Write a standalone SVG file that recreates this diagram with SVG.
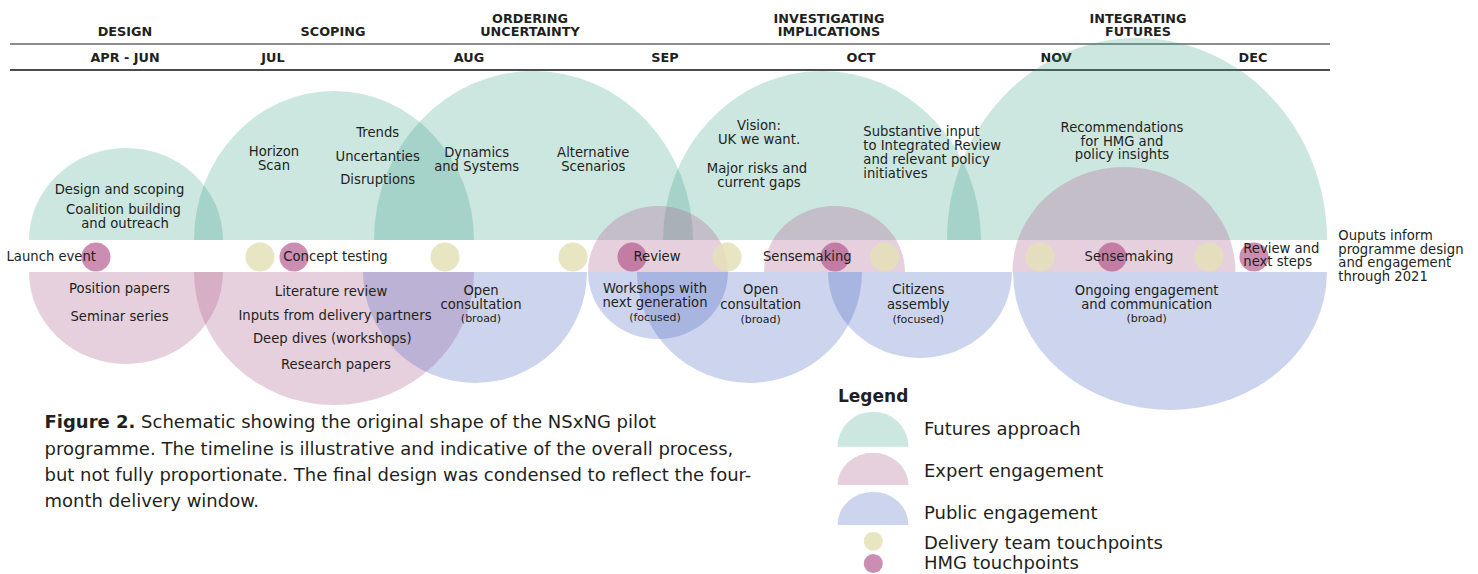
<svg xmlns="http://www.w3.org/2000/svg" width="1478" height="574" viewBox="0 0 1478 574">
<style>
text{font-family:"DejaVu Sans","Liberation Sans",sans-serif;fill:#231f20}
.hd{font-weight:bold;font-size:12.8px;text-anchor:middle}
.lb{font-size:13.2px}
.c{text-anchor:middle}
.sm{font-size:11px}
.cap{font-size:18px}
.lg{font-size:18px}
.fu{fill:#339b83;fill-opacity:.25}
.ex{fill:#b0648f;fill-opacity:.3}
.pu{fill:#4c64c2;fill-opacity:.28}
.dt{fill:#e4e0b9;fill-opacity:.85}
.hm{fill:#af5087;fill-opacity:.65}
</style>
<rect width="1478" height="574" fill="#fff"/>
<g id="timeline">
<line x1="10" y1="44" x2="1330" y2="44" stroke="#666" stroke-width="1.6"/>
<line x1="10" y1="70" x2="1330" y2="70" stroke="#111" stroke-width="1.3"/>
</g>
<g id="phases">
<text class="hd" x="125" y="36">DESIGN</text>
<text class="hd" x="333" y="36">SCOPING</text>
<text class="hd" x="530" y="23.3">ORDERING</text>
<text class="hd" x="530" y="36">UNCERTAINTY</text>
<text class="hd" x="829" y="23.3">INVESTIGATING</text>
<text class="hd" x="829" y="36">IMPLICATIONS</text>
<text class="hd" x="1138" y="23.3">INTEGRATING</text>
<text class="hd" x="1138" y="36">FUTURES</text>
</g>
<g id="months">
<text class="hd" x="125" y="62.3">APR - JUN</text>
<text class="hd" x="273" y="62.3">JUL</text>
<text class="hd" x="469" y="62.3">AUG</text>
<text class="hd" x="665" y="62.3">SEP</text>
<text class="hd" x="861" y="62.3">OCT</text>
<text class="hd" x="1056" y="62.3">NOV</text>
<text class="hd" x="1253" y="62.3">DEC</text>
</g>
<g id="futures-shapes">
<path class="fu" d="M29,240 A97,92 0 0 1 223,240 Z"/>
<path class="fu" d="M194,240 A140,149 0 0 1 474,240 Z"/>
<path class="fu" d="M374,240 A159.5,169 0 0 1 693,240 Z"/>
<path class="fu" d="M663,240 A159,169 0 0 1 981,240 Z"/>
<path class="fu" d="M947,240 A190,202 0 0 1 1327,240 Z"/>
</g>
<g id="expert-shapes">
<path class="ex" d="M29,272 A97,92 0 0 0 223,272 Z"/>
<path class="ex" d="M194,272 A140,133 0 0 0 474,272 Z"/>
<path class="ex" d="M588,272 A70,66 0 0 1 728,272 Z"/>
<path class="ex" d="M764,272 A70.5,66 0 0 1 905,272 Z"/>
<path class="ex" d="M1012.5,272 A111.5,105 0 0 1 1235.5,272 Z"/>
</g>
<g id="public-shapes">
<path class="pu" d="M363,272 A112,111 0 0 0 587,272 Z"/>
<path class="pu" d="M588,272 A70,67 0 0 0 728,272 Z"/>
<path class="pu" d="M637,272 A112.5,111 0 0 0 862,272 Z"/>
<path class="pu" d="M828,272 A92,86 0 0 0 1012,272 Z"/>
<path class="pu" d="M1013,272 A157,138 0 0 0 1327,272 Z"/>
</g>
<g id="touchpoints">
<circle class="dt" cx="260" cy="257" r="14.5"/>
<circle class="dt" cx="445" cy="257" r="14.5"/>
<circle class="dt" cx="573" cy="257" r="14.5"/>
<circle class="dt" cx="727" cy="257" r="14.5"/>
<circle class="dt" cx="884.5" cy="257" r="14.5"/>
<circle class="dt" cx="1040" cy="257" r="14.5"/>
<circle class="dt" cx="1209" cy="257" r="14.5"/>
<circle class="hm" cx="96" cy="257" r="14.5"/>
<circle class="hm" cx="294" cy="257" r="14.5"/>
<circle class="hm" cx="632" cy="257" r="14.5"/>
<circle class="hm" cx="835" cy="257" r="14.5"/>
<circle class="hm" cx="1112" cy="257" r="14.5"/>
<circle class="hm" cx="1254" cy="257" r="14.5"/>
</g>
<g id="design-stage">
<text class="lb c" x="119.5" y="194">Design and scoping</text>
<text class="lb c" x="123.5" y="214">Coalition building</text>
<text class="lb c" x="125" y="227.5">and outreach</text>
<text class="lb" x="6.5" y="261">Launch event</text>
<text class="lb c" x="119.5" y="292.7">Position papers</text>
<text class="lb c" x="119.5" y="320.5">Seminar series</text>
</g>
<g id="scoping-stage">
<text class="lb c" x="274" y="156">Horizon</text>
<text class="lb c" x="274" y="170">Scan</text>
<text class="lb c" x="377.7" y="137.3">Trends</text>
<text class="lb c" x="377.7" y="160.7">Uncertanties</text>
<text class="lb c" x="377.7" y="184">Disruptions</text>
<text class="lb c" x="335.5" y="261">Concept testing</text>
<text class="lb c" x="331" y="295.7">Literature review</text>
<text class="lb c" x="335" y="320">Inputs from delivery partners</text>
<text class="lb c" x="332.3" y="343.3">Deep dives (workshops)</text>
<text class="lb c" x="336" y="369.3">Research papers</text>
</g>
<g id="ordering-stage">
<text class="lb c" x="476.7" y="156.7">Dynamics</text>
<text class="lb c" x="476.7" y="170.7">and Systems</text>
<text class="lb c" x="593.3" y="156.7">Alternative</text>
<text class="lb c" x="593.3" y="170.7">Scenarios</text>
<text class="lb c" x="481" y="295">Open</text>
<text class="lb c" x="481" y="309.3">consultation</text>
<text class="sm c" x="481" y="322.3">(broad)</text>
<text class="lb c" x="657" y="261">Review</text>
<text class="lb c" x="655" y="292.7">Workshops with</text>
<text class="lb c" x="655" y="306.7">next generation</text>
<text class="sm c" x="655" y="320.7">(focused)</text>
</g>
<g id="implications-stage">
<text class="lb c" x="759" y="130">Vision:</text>
<text class="lb c" x="759" y="144">UK we want.</text>
<text class="lb c" x="757" y="173.3">Major risks and</text>
<text class="lb c" x="759" y="186.7">current gaps</text>
<text class="lb" x="863.3" y="136">Substantive input</text>
<text class="lb" x="863.3" y="150.3">to Integrated Review</text>
<text class="lb" x="863.3" y="164">and relevant policy</text>
<text class="lb" x="863.3" y="177.5">initiatives</text>
<text class="lb c" x="807.3" y="261">Sensemaking</text>
<text class="lb c" x="760.7" y="294.3">Open</text>
<text class="lb c" x="760.7" y="308.7">consultation</text>
<text class="sm c" x="760.7" y="322.7">(broad)</text>
<text class="lb c" x="918.3" y="294.3">Citizens</text>
<text class="lb c" x="918.3" y="308.7">assembly</text>
<text class="sm c" x="918.3" y="322.7">(focused)</text>
</g>
<g id="integrating-stage">
<text class="lb c" x="1122" y="131.7">Recommendations</text>
<text class="lb c" x="1122" y="145.7">for HMG and</text>
<text class="lb c" x="1122" y="159.3">policy insights</text>
<text class="lb c" x="1129" y="261">Sensemaking</text>
<text class="lb c" x="1146.7" y="295">Ongoing engagement</text>
<text class="lb c" x="1146.7" y="308.7">and communication</text>
<text class="sm c" x="1146.7" y="322.3">(broad)</text>
<text class="lb" x="1243.3" y="252.5">Review and</text>
<text class="lb" x="1243.3" y="266">next steps</text>
</g>
<g id="outputs-note">
<text class="lb" x="1338.3" y="240">Ouputs inform</text>
<text class="lb" x="1338.3" y="253.7">programme design</text>
<text class="lb" x="1338.3" y="267.4">and engagement</text>
<text class="lb" x="1338.3" y="281.1">through 2021</text>
</g>
<g id="caption">
<text class="cap" x="44.5" y="428.3"><tspan font-weight="bold">Figure 2.</tspan> Schematic showing the original shape of the NSxNG pilot</text>
<text class="cap" x="44.5" y="454.6">programme. The timeline is illustrative and indicative of the overall process,</text>
<text class="cap" x="44.5" y="480.9">but not fully proportionate. The final design was condensed to reflect the four-</text>
<text class="cap" x="44.5" y="507.2">month delivery window.</text>
</g>
<g id="legend">
<text x="838" y="401.7" font-size="17" font-weight="bold">Legend</text>
<path class="fu" d="M837.5,446.7 A35.5,35 0 0 1 908.5,446.7 Z"/>
<text class="lg" x="924" y="435">Futures approach</text>
<path class="ex" d="M837.5,485 A35.5,32.3 0 0 1 908.5,485 Z"/>
<text class="lg" x="924" y="476.7">Expert engagement</text>
<path class="pu" d="M837.5,525 A35.5,33.3 0 0 1 908.5,525 Z"/>
<text class="lg" x="924" y="519.3">Public engagement</text>
<circle class="dt" cx="873.3" cy="541.2" r="9.5"/>
<text class="lg" x="924" y="548.5">Delivery team touchpoints</text>
<circle class="hm" cx="873.3" cy="563.5" r="9.5"/>
<text class="lg" x="924" y="569.3">HMG touchpoints</text>
</g>
</svg>
